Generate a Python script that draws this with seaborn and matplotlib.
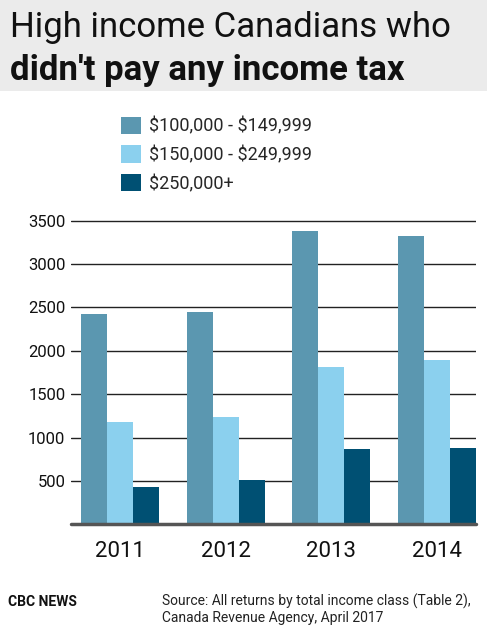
import pandas as pd
import seaborn as sns
import matplotlib.pyplot as plt
from matplotlib.patches import Rectangle

# Values (number of filers with no income tax paid)
years = ["2011", "2012", "2013", "2014"]
brackets = ["$100,000 - $149,999", "$150,000 - $249,999", "$250,000+"]
low_bracket = [2420, 2450, 3380, 3320]
mid_bracket = [1175, 1235, 1815, 1890]
top_bracket = [435, 510, 865, 885]
bar_colors = ["#5b97b0", "#8bd0ee", "#005073"]
y_ticks = [500, 1000, 1500, 2000, 2500, 3000, 3500]


def main():
    sns.set_theme(style="white")
    plt.rcParams["font.family"] = ["Roboto", "DejaVu Sans"]

    # long-form table for seaborn
    rows = []
    for bracket, values in zip(brackets, [low_bracket, mid_bracket, top_bracket]):
        for year, v in zip(years, values):
            rows.append({"year": year, "bracket": bracket, "count": v})
    df = pd.DataFrame(rows)

    fig = plt.figure(figsize=(4.87, 6.28), dpi=100)
    fig.patch.set_facecolor("white")

    # grey title band
    fig.patches.append(Rectangle((0, 1 - 91 / 628), 1, 91 / 628,
                                 transform=fig.transFigure,
                                 facecolor="#ebebeb", edgecolor="none", zorder=0))
    fig.text(10 / 487, 1 - 37 / 628, "High income Canadians who",
             fontsize=25, color="#111111", va="baseline", ha="left")
    fig.text(10 / 487, 1 - 80 / 628, "didn't pay any income tax",
             fontsize=25, fontweight="bold", color="#111111", va="baseline", ha="left")

    ax = fig.add_axes([71 / 487, 103.7 / 628, 405 / 487, 308 / 628])
    sns.barplot(data=df, x="year", y="count", hue="bracket",
                palette=bar_colors, width=0.74, saturation=1,
                edgecolor="none", ax=ax, zorder=3)

    ax.set_xlim(-0.464, 3.369)
    ax.set_ylim(0, 3550)
    ax.set_yticks(y_ticks)
    ax.set_yticklabels([str(t) for t in y_ticks])
    ax.yaxis.grid(True, color="#222222", linewidth=1)
    ax.set_axisbelow(True)
    ax.axhline(0, color="#555555", linewidth=2.5, zorder=4, clip_on=False)
    for s in ax.spines.values():
        s.set_visible(False)
    ax.set_xlabel("")
    ax.set_ylabel("")
    ax.tick_params(axis="y", length=0, pad=4, labelsize=12, labelcolor="#111111")
    ax.tick_params(axis="x", length=0, pad=12, labelsize=16, labelcolor="#111111")

    handles, labels = ax.get_legend_handles_labels()
    ax.get_legend().remove()
    # escape dollar signs so they are not read as mathtext
    labels = [l.replace("$", r"\$") for l in labels]
    fig.legend(handles, labels, loc="upper left",
               bbox_to_anchor=(108 / 487, 1 - 104 / 628),
               bbox_transform=fig.transFigure, frameon=False,
               fontsize=13, handlelength=1.1, handleheight=1.1,
               handletextpad=0.45, labelspacing=0.55, borderpad=0.2)

    # footer
    fig.text(8 / 487, 1 - 606 / 628, "CBC NEWS", fontsize=10, fontweight="bold",
             color="#111111", va="baseline")
    fig.text(162 / 487, 1 - 606 / 628,
             "Source: All returns by total income class (Table 2),",
             fontsize=10, color="#222222", va="baseline")
    fig.text(162 / 487, 1 - 622 / 628, "Canada Revenue Agency, April 2017",
             fontsize=10, color="#222222", va="baseline")

    fig.savefig("out.png", dpi=100)
    plt.close(fig)


if __name__ == "__main__":
    main()
